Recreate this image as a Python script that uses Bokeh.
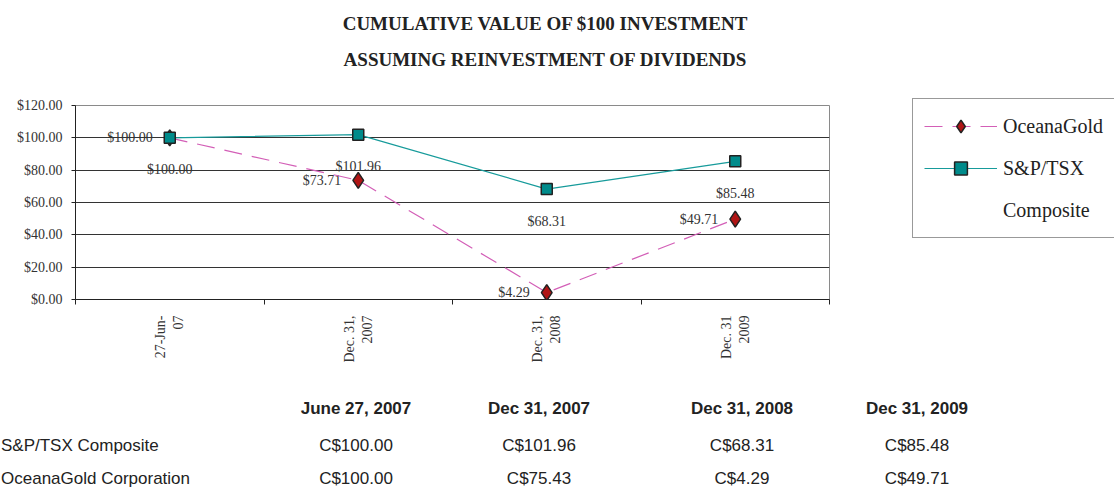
import math
from bokeh.plotting import figure
from bokeh.layouts import column
from bokeh.models import (Range1d, FixedTicker, NumeralTickFormatter, Legend, LegendItem, Div)
from bokeh.embed import file_html
from bokeh.resources import INLINE
from bokeh.core.properties import value

# ---- data ----
categories = ["27-Jun-\n07", "Dec. 31,\n2007", "Dec. 31,\n2008", "Dec. 31\n2009"]
oceana = [100.00, 73.71, 4.29, 49.71]
sptsx = [100.00, 101.96, 68.31, 85.48]
y_ticks = [0, 20, 40, 60, 80, 100, 120]
series_names = ["OceanaGold", "S&P/TSX", "Composite"]
title_lines = ["CUMULATIVE VALUE OF $100 INVESTMENT", "ASSUMING REINVESTMENT OF DIVIDENDS"]

table_dates = ["June 27, 2007", "Dec 31, 2007", "Dec 31, 2008", "Dec 31, 2009"]
table_rows = ["S&P/TSX Composite", "OceanaGold Corporation"]
table_sptsx = [100.00, 101.96, 68.31, 85.48]
table_oceana = [100.00, 75.43, 4.29, 49.71]

# ---- style constants ----
SERIF = "Liberation Serif"
SANS = "Liberation Sans"
TXT = "#222222"
W = 1112
TITLE_H = 90
LEFT, FRAME_W = 75, 754
TOP, FRAME_H, BOTTOM = 15, 194, 81
TOTAL_H = 492


def esc(s):
    return s.replace("&", "&amp;")


def abs_text(txt, cy, family, size, cx=None, left=None, bold=False, width=200):
    st = (f"position:absolute;line-height:24px;white-space:nowrap;font-family:'{family}',"
          f"serif;font-size:{size}px;color:{TXT};top:{cy - 12}px;")
    if bold:
        st += "font-weight:bold;"
    if cx is not None:
        st += f"left:{cx - width // 2}px;width:{width}px;text-align:center;"
    else:
        st += f"left:{left}px;"
    return f'<div style="{st}">{esc(txt)}</div>'


def html_box(parts, h):
    return (f'<div style="position:relative;width:{W}px;height:{h}px;margin:0;padding:0;">'
            + "".join(parts) + "</div>")


# ---- title (HTML) ----
title_parts = [abs_text(t, cy, SERIF, 19, cx=545, bold=True, width=700)
               for t, cy in zip(title_lines, [24, 60])]
title_div = Div(text=html_box(title_parts, TITLE_H), width=W, height=TITLE_H, margin=0)

# ---- chart ----
xs = [i + 0.5 for i in range(len(categories))]
p = figure(frame_width=FRAME_W, frame_height=FRAME_H,
           x_range=Range1d(0, len(categories)), y_range=Range1d(0, 120),
           output_backend="svg", toolbar_location=None, title=None,
           min_border_left=LEFT, min_border_right=W - LEFT - FRAME_W,
           min_border_top=TOP, min_border_bottom=BOTTOM)
p.background_fill_color = "white"
p.border_fill_color = "white"
p.outline_line_color = "#8a8a8a"
p.outline_line_width = 1

p.xaxis.ticker = FixedTicker(ticks=xs, minor_ticks=list(range(len(categories) + 1)))
p.xaxis.major_label_overrides = {x: c for x, c in zip(xs, categories)}
p.xaxis.major_label_orientation = math.pi / 2
p.xaxis.major_tick_in = 0
p.xaxis.major_tick_out = 0
p.xaxis.minor_tick_in = 0
p.xaxis.minor_tick_out = 5
p.xaxis.minor_tick_line_color = TXT
p.xaxis.axis_line_color = TXT
p.xaxis.major_label_standoff = 11
p.xaxis.major_label_text_font = SERIF
p.xaxis.major_label_text_font_size = "14px"
p.xaxis.major_label_text_color = "#333333"

p.yaxis.ticker = FixedTicker(ticks=y_ticks)
p.yaxis.formatter = NumeralTickFormatter(format="$0.00")
p.yaxis.major_tick_in = 0
p.yaxis.major_tick_out = 4
p.yaxis.minor_tick_line_color = None
p.yaxis.axis_line_color = TXT
p.yaxis.major_tick_line_color = TXT
p.yaxis.major_label_standoff = 9
p.yaxis.major_label_text_font = SERIF
p.yaxis.major_label_text_font_size = "14px"
p.yaxis.major_label_text_color = "#333333"

p.xgrid.visible = False
p.ygrid.ticker = FixedTicker(ticks=y_ticks[1:-1])
p.ygrid.grid_line_color = "#333333"
p.ygrid.grid_line_width = 1

p.text(x=xs, y=oceana, text=[f"${v:.2f}" for v in oceana],
       text_align="right", text_baseline="middle", x_offset=-17,
       text_font=value(SERIF), text_font_size="14px", text_color="#333333")
p.text(x=xs, y=sptsx, text=[f"${v:.2f}" for v in sptsx],
       text_align="center", text_baseline="middle", y_offset=32,
       text_font=value(SERIF), text_font_size="14px", text_color="#333333")

l1 = p.line(xs, oceana, line_color="#d35fb7", line_width=1.2, line_dash="18 10")
s1 = p.scatter(xs, oceana, marker="diamond", size=16,
               fill_color="#b01515", line_color=TXT, line_width=1.5)
l2 = p.line(xs, sptsx, line_color="#179b9b", line_width=1.2)
s2 = p.scatter(xs, sptsx, marker="square", size=11, fill_color="#008b8b",
               line_color=TXT, line_width=1.5)
blank = p.line(x=[], y=[], line_alpha=0)

legend = Legend(items=[LegendItem(label=series_names[0], renderers=[l1, s1]),
                       LegendItem(label=series_names[1], renderers=[l2, s2]),
                       LegendItem(label=series_names[2], renderers=[blank])],
                location=(83, 61), glyph_width=73, glyph_height=32,
                label_height=20, label_standoff=6, spacing=10, padding=11, margin=0,
                border_line_color="#333333", border_line_width=1,
                background_fill_color="white",
                label_text_font=SERIF, label_text_font_size="20px",
                label_text_color=TXT)
p.add_layout(legend, "right")

# ---- table (HTML) ----
TBH = TOTAL_H - TITLE_H - (TOP + FRAME_H + BOTTOM)
col_x = [356, 539, 742, 917]
row_c = [29, 66, 99]
parts = [abs_text(d, row_c[0], SANS, 17, cx=cx, bold=True) for cx, d in zip(col_x, table_dates)]
for rc, name, vals in zip(row_c[1:], table_rows, [table_sptsx, table_oceana]):
    parts.append(abs_text(name, rc, SANS, 17, left=1))
    parts += [abs_text(f"C${v:.2f}", rc, SANS, 17, cx=cx) for cx, v in zip(col_x, vals)]
table_div = Div(text=html_box(parts, TBH), width=W, height=TBH, margin=0)

layout = column(title_div, p, table_div, spacing=0)
open("out.html", "w").write(file_html(layout, INLINE))
